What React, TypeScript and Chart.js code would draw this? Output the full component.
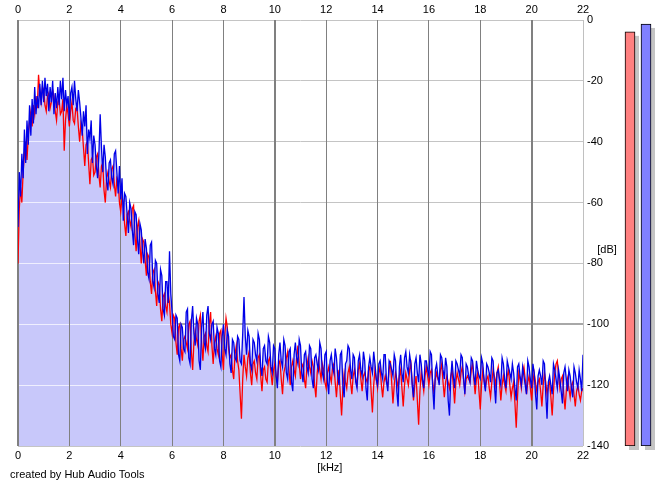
import { useEffect, useRef } from "react";
import { Chart, registerables } from "chart.js";

Chart.register(...registerables);

// ---- data ----
const FREQ_STEP_KHZ = 0.05; // spacing of the spectrum bins (kHz)
const X_TICKS = [0, 2, 4, 6, 8, 10, 12, 14, 16, 18, 20, 22];
const Y_TICKS = [0, -20, -40, -60, -80, -100, -120, -140];

// right channel (blue), dB, bins 0.00 .. 22.00 kHz (20 bins per kHz per row)
const BLUE_DB = [
  -68, -50, -58, -44, -52, -36, -47, -33, -41, -28, -38, -26, -34, -22, -31, -25, -29, -21, -28, -20,
  -27, -19, -25, -21, -30, -22, -27, -20, -31, -24, -29, -22, -28, -20, -26, -19, -30, -23, -28, -25,
  -33, -24, -22, -28, -20, -26, -30, -23, -27, -32, -38, -30, -35, -28, -44, -36, -39, -33, -47, -38,
  -41, -48, -52, -44, -31, -42, -50, -41, -45, -53, -56, -47, -46, -52, -54, -44, -43, -50, -57, -48,
  -59, -52, -66, -57, -58, -64, -70, -60, -62, -69, -74, -63, -64, -72, -77, -67, -69, -76, -80, -72,
  -75, -83, -85, -74, -73, -86, -88, -79, -80, -90, -93, -82, -84, -95, -97, -86, -86, -93, -76, -90,
  -96, -104, -105, -97, -98, -110, -112, -100, -101, -108, -109, -96, -95, -111, -113, -99, -94, -103, -107, -98,
  -100, -112, -115, -101, -96, -106, -108, -97, -94, -103, -105, -100, -99, -108, -110, -101, -103, -112, -114, -104,
  -100, -108, -110, -102, -104, -113, -116, -105, -106, -111, -112, -104, -105, -112, -113, -103, -91, -104, -110, -102,
  -104, -113, -115, -105, -106, -110, -112, -103, -105, -114, -117, -108, -107, -112, -113, -104, -106, -114, -116, -107,
  -108, -117, -121, -110, -106, -112, -114, -105, -107, -116, -118, -109, -108, -119, -122, -110, -106, -111, -113, -105,
  -107, -116, -119, -110, -109, -114, -116, -107, -108, -118, -121, -111, -110, -113, -115, -106, -108, -116, -118, -110,
  -109, -119, -123, -112, -110, -114, -116, -108, -111, -117, -120, -110, -109, -120, -124, -113, -112, -107, -108, -115,
  -118, -110, -111, -119, -121, -112, -110, -115, -117, -109, -112, -121, -125, -114, -111, -114, -116, -109, -113, -118,
  -120, -113, -112, -116, -118, -110, -110, -119, -122, -112, -113, -115, -117, -110, -112, -122, -127, -114, -110, -116,
  -119, -111, -109, -114, -116, -110, -113, -120, -124, -113, -111, -116, -119, -110, -113, -118, -121, -112, -112, -115,
  -117, -109, -110, -121, -128, -115, -113, -117, -120, -110, -111, -115, -118, -111, -114, -125, -130, -118, -112, -117,
  -121, -112, -113, -115, -117, -110, -111, -118, -123, -113, -114, -117, -119, -111, -112, -117, -120, -112, -115, -117,
  -118, -111, -113, -119, -122, -113, -114, -116, -119, -111, -112, -120, -126, -116, -115, -118, -120, -111, -113, -118,
  -121, -112, -114, -116, -118, -113, -116, -121, -125, -114, -113, -117, -120, -114, -117, -120, -123, -112, -114, -118,
  -121, -113, -116, -123, -128, -117, -115, -117, -120, -112, -113, -123, -131, -119, -117, -120, -123, -113, -115, -118,
  -121, -115, -118, -122, -126, -116, -114, -118, -122, -115, -117, -121, -124, -114, -116, -119, -121, -115, -118, -122,
  -110,
];

// left channel (red), dB, bins 0.00 .. 22.00 kHz
const RED_DB = [
  -80, -62, -55, -60, -50, -44, -40, -46, -38, -33, -30, -35, -28, -31, -25, -29, -18, -24, -27, -22,
  -23, -28, -30, -25, -24, -29, -27, -23, -25, -30, -33, -27, -26, -31, -30, -26, -43, -33, -28, -31,
  -35, -30, -27, -33, -34, -29, -29, -35, -40, -34, -36, -42, -48, -41, -40, -47, -54, -46, -45, -51,
  -50, -45, -44, -51, -55, -48, -47, -56, -60, -52, -50, -53, -55, -49, -48, -54, -58, -52, -53, -60,
  -63, -58, -60, -67, -71, -64, -63, -66, -68, -62, -61, -70, -76, -68, -66, -74, -80, -72, -73, -79,
  -84, -77, -78, -86, -90, -83, -82, -89, -94, -86, -87, -95, -99, -91, -90, -94, -96, -90, -93, -100,
  -103, -97, -98, -106, -110, -101, -100, -108, -112, -105, -104, -106, -108, -100, -99, -109, -115, -106, -102, -105,
  -107, -99, -97, -106, -112, -104, -103, -107, -109, -100, -96, -107, -113, -106, -104, -108, -110, -103, -102, -110,
  -115, -104, -98, -101, -108, -111, -110, -115, -118, -110, -107, -112, -115, -123, -131, -118, -110, -114, -117, -111,
  -109, -116, -120, -113, -112, -116, -118, -111, -110, -117, -122, -115, -114, -118, -119, -112, -111, -116, -120, -115,
  -113, -117, -119, -113, -112, -118, -123, -116, -114, -111, -109, -115, -120, -114, -112, -115, -117, -111, -107, -113,
  -118, -114, -113, -118, -121, -114, -111, -114, -116, -112, -114, -120, -124, -116, -112, -115, -118, -113, -115, -119,
  -121, -116, -114, -117, -119, -114, -113, -119, -124, -118, -115, -123, -130, -121, -116, -119, -121, -116, -114, -119,
  -123, -117, -115, -118, -120, -115, -113, -118, -122, -117, -116, -118, -119, -115, -114, -122, -129, -120, -115, -118,
  -121, -116, -114, -120, -124, -119, -117, -119, -120, -115, -112, -119, -126, -120, -116, -118, -121, -117, -115, -121,
  -127, -120, -116, -118, -120, -115, -113, -119, -125, -120, -117, -125, -133, -122, -116, -119, -122, -117, -114, -117,
  -120, -116, -115, -119, -123, -118, -116, -118, -119, -115, -113, -119, -124, -119, -117, -119, -121, -117, -115, -120,
  -126, -119, -116, -118, -120, -116, -114, -118, -122, -118, -117, -118, -119, -115, -113, -118, -123, -118, -116, -122,
  -128, -120, -115, -118, -121, -118, -117, -121, -124, -119, -115, -117, -120, -116, -114, -119, -125, -120, -117, -120,
  -122, -117, -115, -120, -124, -121, -119, -126, -134, -124, -116, -118, -121, -116, -114, -118, -123, -119, -117, -121,
  -125, -119, -116, -119, -122, -119, -118, -122, -127, -120, -116, -119, -123, -120, -119, -124, -130, -122, -116, -113,
  -112, -117, -121, -118, -117, -123, -128, -122, -118, -121, -124, -120, -119, -123, -127, -122, -120, -123, -125, -122,
  -121,
];

// level meters
const METER_LABELS = ["L", "R"];
const METER_DB = [-3.9, -1.3];
const DB_FLOOR = -140;

// ---- styles ----
const FONT_FAMILY = '"Liberation Sans", Arial, sans-serif';
const FILL = "#c8c8fa";
const BLUE = "#0000e8";
const RED = "#ff0000";
const LINE_W = 1.3;

const align = (p: number, w: number) => Math.round(p - w / 2) + w / 2;
const vColor = (v: number) => (v === 22 ? "#c0c0c0" : "#808080");
const vWidth = (v: number) => (v % 10 === 0 ? 2 : 1);

const overlayPlugin = {
  id: "fillOverlay",
  beforeDatasetsDraw(chart: any) {
    const { ctx, chartArea: a, scales } = chart;
    ctx.save();
    ctx.beginPath();
    ctx.rect(a.left, a.top, a.right - a.left, a.bottom - a.top);
    ctx.clip();
    // light horizontal lines visible through the fill
    ctx.save();
    ctx.beginPath();
    chart.data.datasets.forEach((_: any, di: number) => {
      const pts = chart.getDatasetMeta(di).data;
      if (!pts.length) return;
      ctx.moveTo(pts[0].x, a.bottom);
      pts.forEach((p: any) => ctx.lineTo(p.x, p.y));
      ctx.lineTo(pts[pts.length - 1].x, a.bottom);
      ctx.closePath();
    });
    ctx.clip();
    ctx.strokeStyle = "rgba(255,255,255,0.7)";
    ctx.lineWidth = 1;
    Y_TICKS.forEach((v) => {
      const y = align(scales.y.getPixelForValue(v), 1);
      ctx.beginPath();
      ctx.moveTo(a.left, y);
      ctx.lineTo(a.right, y);
      ctx.stroke();
    });
    ctx.restore();
    // vertical grid lines over the fill
    X_TICKS.forEach((v) => {
      const w = vWidth(v);
      const x = align(scales.x.getPixelForValue(v), w);
      ctx.strokeStyle = vColor(v);
      ctx.lineWidth = w;
      ctx.beginPath();
      ctx.moveTo(x, a.top);
      ctx.lineTo(x, a.bottom);
      ctx.stroke();
    });
    ctx.restore();
  },
};

const textPlugin = {
  id: "extraTexts",
  afterDraw(chart: any) {
    const { ctx, chartArea: a } = chart;
    ctx.save();
    ctx.font = `11px ${FONT_FAMILY}`;
    ctx.fillStyle = "#000";
    ctx.textBaseline = "middle";
    ctx.textAlign = "center";
    ctx.fillText("[kHz]", a.left + (a.right - a.left) * 0.552, a.bottom + 22);
    ctx.fillText("[dB]", a.right + 24, a.top + 230);
    ctx.textAlign = "left";
    ctx.fillText("created by Hub Audio Tools", 10, a.bottom + 29);
    ctx.restore();
  },
};

const shadowPlugin = {
  id: "meterShadow",
  beforeDatasetsDraw(chart: any) {
    const { ctx } = chart;
    ctx.save();
    ctx.fillStyle = "#c4c4c4";
    chart.getDatasetMeta(0).data.forEach((el: any) => {
      const { x, y, base, width } = el.getProps(["x", "y", "base", "width"], true);
      ctx.fillRect(x - width / 2 + 4, y + 4, width, base - y);
    });
    ctx.restore();
  },
};

export default function App() {
  const mainRef = useRef<HTMLCanvasElement>(null);
  const meterRef = useRef<HTMLCanvasElement>(null);

  useEffect(() => {
    document.body.style.margin = "0";
    document.body.style.background = "#fff";
    const freqs = BLUE_DB.map((_, i) => Math.round(i * FREQ_STEP_KHZ * 100) / 100);
    const toPts = (arr: number[]) => arr.map((v, i) => ({ x: freqs[i], y: v }));
    const tickFont = { family: FONT_FAMILY, size: 11 };

    const main = new Chart(mainRef.current!, {
      type: "line",
      data: {
        datasets: [
          {
            label: "R",
            data: toPts(BLUE_DB),
            borderColor: BLUE,
            backgroundColor: FILL,
            fill: "start",
            borderWidth: LINE_W,
            pointRadius: 0,
            tension: 0,
          },
          {
            label: "L",
            data: toPts(RED_DB),
            borderColor: RED,
            backgroundColor: FILL,
            fill: "start",
            borderWidth: LINE_W,
            pointRadius: 0,
            tension: 0,
          },
        ],
      },
      options: {
        responsive: false,
        animation: false,
        events: [],
        layout: { padding: { left: 18, top: 0, right: 0, bottom: 0 } },
        plugins: {
          legend: { display: false },
          tooltip: { enabled: false },
          filler: { drawTime: "beforeDatasetsDraw" },
        } as any,
        scales: {
          x: {
            type: "linear",
            position: "bottom",
            min: 0,
            max: 22,
            afterBuildTicks: (s: any) => {
              s.ticks = X_TICKS.map((v) => ({ value: v }));
            },
            afterFit: (s: any) => {
              s.height = 41;
            },
            border: { display: false },
            grid: {
              drawTicks: false,
              color: (c: any) => vColor(c.tick.value),
              lineWidth: (c: any) => vWidth(c.tick.value),
            },
            ticks: {
              font: tickFont,
              color: "#000",
              padding: 3,
              maxRotation: 0,
              autoSkip: false,
              callback: (v: any) => String(v),
            },
          },
          xTop: {
            type: "linear",
            position: "top",
            min: 0,
            max: 22,
            afterBuildTicks: (s: any) => {
              s.ticks = X_TICKS.map((v) => ({ value: v }));
            },
            afterFit: (s: any) => {
              s.height = 20;
            },
            border: { display: false },
            grid: { display: false, drawTicks: false },
            ticks: {
              font: tickFont,
              color: "#000",
              padding: 3,
              maxRotation: 0,
              autoSkip: false,
              callback: (v: any) => String(v),
            },
          },
          y: {
            type: "linear",
            position: "right",
            min: -140,
            max: 0,
            afterBuildTicks: (s: any) => {
              s.ticks = Y_TICKS.map((v) => ({ value: v }));
            },
            afterFit: (s: any) => {
              s.width = 82;
            },
            border: { display: false },
            grid: {
              drawTicks: false,
              color: (c: any) => (c.tick.value === -100 ? "#a8a8a8" : "#c4c4c4"),
              lineWidth: (c: any) => (c.tick.value === -100 ? 2 : 1),
            },
            ticks: {
              font: tickFont,
              color: "#000",
              padding: 4,
              autoSkip: false,
              callback: (v: any) => String(v),
            },
          },
        } as any,
      },
      plugins: [overlayPlugin, textPlugin],
    });

    const meter = new Chart(meterRef.current!, {
      type: "bar",
      data: {
        labels: METER_LABELS,
        datasets: [
          {
            data: METER_DB.map((v) => [DB_FLOOR, v]) as any,
            backgroundColor: ["#ff8080", "#8080ff"],
            borderColor: "#000",
            borderWidth: 1,
            borderSkipped: false,
            barThickness: 10,
          },
        ],
      },
      options: {
        responsive: false,
        animation: false,
        events: [],
        layout: { padding: { left: 4, right: 4, top: 20, bottom: 41 } },
        plugins: { legend: { display: false }, tooltip: { enabled: false } },
        scales: {
          x: { display: false },
          y: { display: false, min: DB_FLOOR, max: 0 },
        },
      },
      plugins: [shadowPlugin],
    });

    return () => {
      main.destroy();
      meter.destroy();
    };
  }, []);

  return (
    <div style={{ position: "absolute", left: 0, top: 0, width: 665, height: 487, background: "#fff" }}>
      <canvas ref={mainRef} width={665} height={487} style={{ position: "absolute", left: 0, top: 0 }} />
      <canvas ref={meterRef} width={40} height={487} style={{ position: "absolute", left: 618, top: 0 }} />
    </div>
  );
}
